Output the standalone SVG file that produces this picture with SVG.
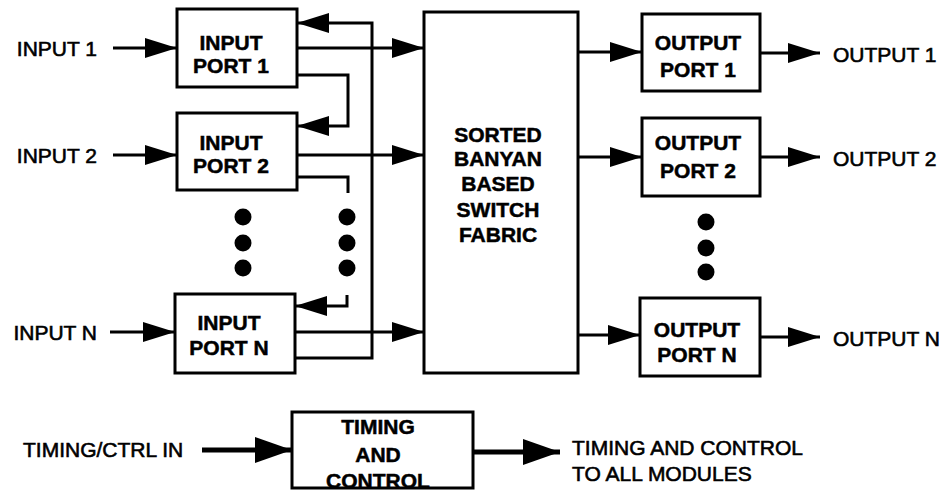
<svg xmlns="http://www.w3.org/2000/svg" width="945" height="492" viewBox="0 0 945 492">
<style>
.box{fill:#fff;stroke:#000;stroke-width:3}
.bt{font-family:"Liberation Sans",Arial,sans-serif;font-weight:bold;font-size:21px;text-anchor:middle;fill:#000;stroke:#000;stroke-width:0.5}
.lb{font-family:"Liberation Sans",Arial,sans-serif;font-size:21px;fill:#000;stroke:#000;stroke-width:0.6}
.c{fill:none;stroke:#000;stroke-width:3}
.ct{fill:none;stroke:#000;stroke-width:5}
.dot{fill:#000}
</style>
<defs>
<marker id="ah" markerUnits="userSpaceOnUse" markerWidth="32" markerHeight="20" refX="32" refY="10" orient="auto">
<path d="M0,0 L32,10 L0,20 z" fill="#000"/>
</marker>
<marker id="ahb" markerUnits="userSpaceOnUse" markerWidth="37" markerHeight="26" refX="37" refY="13" orient="auto">
<path d="M0,0 L37,13 L0,26 z" fill="#000"/>
</marker>
</defs>

<g id="connectors">
<path class="c" d="M113,48 H177" marker-end="url(#ah)"/>
<path class="c" d="M113,155 H177" marker-end="url(#ah)"/>
<path class="c" d="M110,332 H175" marker-end="url(#ah)"/>
<path class="c" d="M297,48 H424" marker-end="url(#ah)"/>
<path class="c" d="M297,155 H424" marker-end="url(#ah)"/>
<path class="c" d="M295,332 H424" marker-end="url(#ah)"/>
<path class="c" d="M297,75 H348 V126 H297" marker-end="url(#ah)"/>
<path class="c" d="M297,177 H348 V193"/>
<path class="c" d="M347,295 V306 H295" marker-end="url(#ah)"/>
<path class="c" d="M295,358 H372 V23 H297" marker-end="url(#ah)"/>
<path class="c" d="M578,52 H642" marker-end="url(#ah)"/>
<path class="c" d="M578,157 H642" marker-end="url(#ah)"/>
<path class="c" d="M578,335 H640" marker-end="url(#ah)"/>
<path class="c" d="M760,53 H820" marker-end="url(#ah)"/>
<path class="c" d="M760,157 H820" marker-end="url(#ah)"/>
<path class="c" d="M760,337 H820" marker-end="url(#ah)"/>
<path class="ct" d="M202,450 H292" marker-end="url(#ahb)"/>
<path class="ct" d="M473,452 H560" marker-end="url(#ahb)"/>
</g>

<g id="labels">
<text class="lb" x="97" y="56" text-anchor="end">INPUT 1</text>
<text class="lb" x="97" y="163" text-anchor="end">INPUT 2</text>
<text class="lb" x="97" y="340" text-anchor="end">INPUT N</text>
<text class="lb" x="833" y="62">OUTPUT 1</text>
<text class="lb" x="833" y="166">OUTPUT 2</text>
<text class="lb" x="833" y="346">OUTPUT N</text>
<text class="lb" x="23" y="457">TIMING/CTRL IN</text>
<text class="lb" x="572" y="455">TIMING AND CONTROL</text>
<text class="lb" x="572" y="481">TO ALL MODULES</text>
</g>

<g id="dots">
<circle class="dot" cx="243" cy="217" r="8.5"/>
<circle class="dot" cx="243" cy="243" r="8.5"/>
<circle class="dot" cx="243" cy="268" r="8.5"/>
<circle class="dot" cx="347" cy="217" r="8.5"/>
<circle class="dot" cx="347" cy="243" r="8.5"/>
<circle class="dot" cx="347" cy="268" r="8.5"/>
<circle class="dot" cx="706" cy="222" r="8.5"/>
<circle class="dot" cx="706" cy="248" r="8.5"/>
<circle class="dot" cx="706" cy="272" r="8.5"/>
</g>

<g id="input-port-1">
<rect class="box" x="177" y="9" width="120" height="78"/>
<text class="bt" x="231" y="50">INPUT</text>
<text class="bt" x="231" y="73">PORT 1</text>
</g>
<g id="input-port-2">
<rect class="box" x="177" y="113" width="120" height="77"/>
<text class="bt" x="231" y="150">INPUT</text>
<text class="bt" x="231" y="173">PORT 2</text>
</g>
<g id="input-port-n">
<rect class="box" x="175" y="294" width="120" height="79"/>
<text class="bt" x="229" y="330">INPUT</text>
<text class="bt" x="229" y="355">PORT N</text>
</g>
<g id="switch-fabric">
<rect class="box" x="424" y="12" width="154" height="361"/>
<text class="bt" x="498" y="142">SORTED</text>
<text class="bt" x="498" y="166">BANYAN</text>
<text class="bt" x="498" y="191">BASED</text>
<text class="bt" x="498" y="217">SWITCH</text>
<text class="bt" x="498" y="242">FABRIC</text>
</g>
<g id="output-port-1">
<rect class="box" x="642" y="14" width="118" height="77"/>
<text class="bt" x="698" y="50">OUTPUT</text>
<text class="bt" x="698" y="77">PORT 1</text>
</g>
<g id="output-port-2">
<rect class="box" x="642" y="118" width="118" height="78"/>
<text class="bt" x="698" y="150">OUTPUT</text>
<text class="bt" x="698" y="178">PORT 2</text>
</g>
<g id="output-port-n">
<rect class="box" x="640" y="298" width="120" height="78"/>
<text class="bt" x="697" y="337">OUTPUT</text>
<text class="bt" x="697" y="362">PORT N</text>
</g>
<g id="timing-control">
<rect class="box" x="292" y="412" width="181" height="76"/>
<text class="bt" x="378" y="434">TIMING</text>
<text class="bt" x="378" y="462">AND</text>
<text class="bt" x="378" y="488">CONTROL</text>
</g>
</svg>
